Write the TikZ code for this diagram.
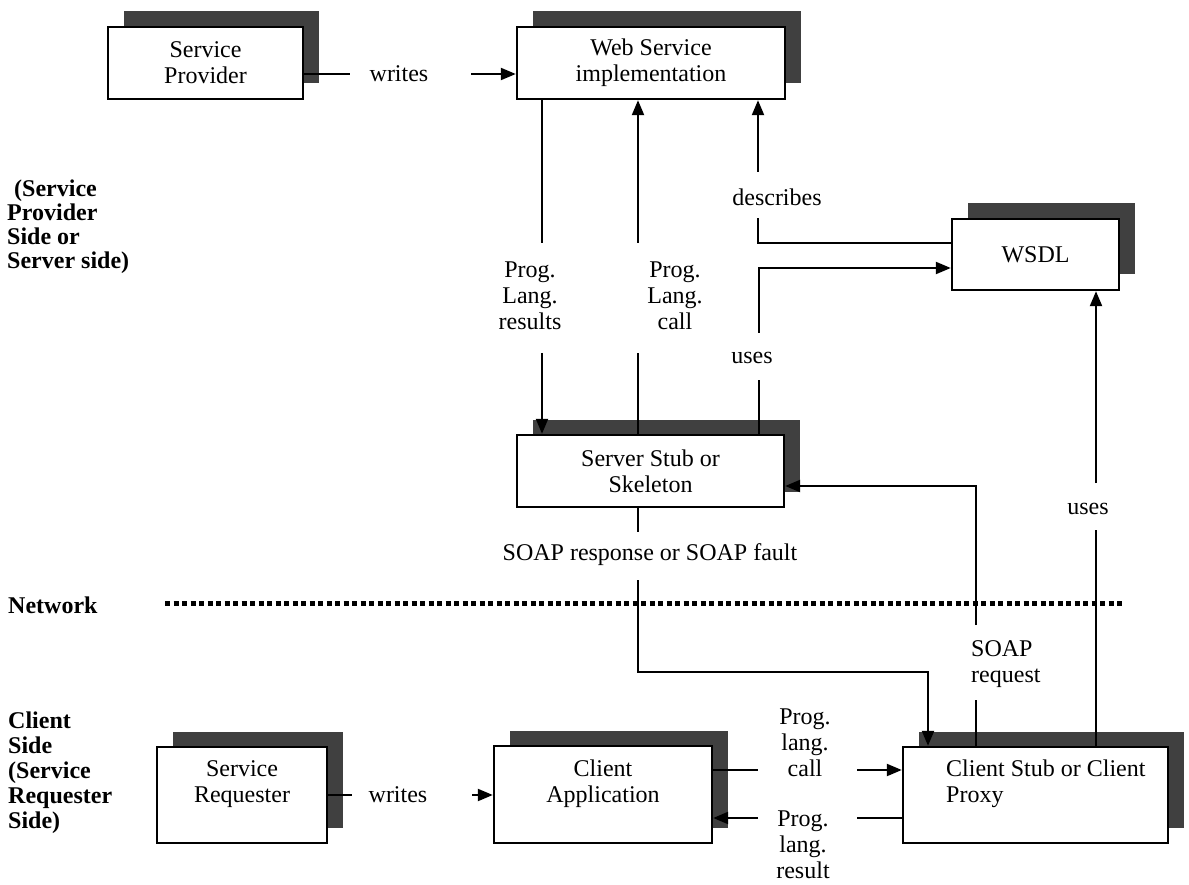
\documentclass[tikz,border=0pt]{standalone}
\usepackage{fontspec}
\setmainfont{Liberation Serif}
\usetikzlibrary{arrows.meta,shadows}
\begin{document}
\begin{tikzpicture}[x=1pt,y=-1pt,
  box/.style={draw, line width=2.4pt, fill=white, inner sep=0pt, align=center,
    font=\fontsize{24}{26}\selectfont,
    general shadow={fill=black!75, shadow xshift=16pt, shadow yshift=15.5pt}},
  lbl/.style={inner sep=0pt, align=center, font=\fontsize{24}{26}\selectfont},
  side/.style={inner sep=0pt, align=left, anchor=west, font=\fontsize{24}{24}\selectfont\bfseries},
  conn/.style={line width=2.2pt},
  arr/.style={line width=2.2pt, -{Triangle[length=15pt,width=12pt]}},
  net/.style={line width=5pt, dash pattern=on 5pt off 3.5pt}]

\fill[white] (0,0) rectangle (1189,885);
\useasboundingbox (0,0) rectangle (1189,885);

% side captions
\node[side] (srvside) at (7,227) {\hspace*{7pt}(Service\\Provider\\Side or\\Server side)};
\node[side] (netl) at (8,605) {Network};
\node[side, font=\fontsize{24}{25}\selectfont\bfseries] (cliside) at (8,773) {Client\\Side\\(Service\\Requester\\Side)};

% network boundary
\coordinate (n1) at (165,603);
\coordinate (n2) at (1122,603);
\draw[net] (n1) -- (n2);

% boxes
\node[box, minimum width=195pt, minimum height=72pt] (sp) at (205.5,63) {Service\\Provider};
\node[box, minimum width=268pt, minimum height=72pt] (wsi) at (651,63) {Web Service\\implementation};
\node[box, minimum width=167pt, minimum height=71pt] (wsdl) at (1035.5,254.5) {WSDL};
\node[box, minimum width=267pt, minimum height=72pt] (sss) at (650.5,471) {Server Stub or\\Skeleton};
\node[box, minimum width=170pt, minimum height=96pt] (sr) at (242,795) {};
\node[lbl] (srt) at (242,784.5) {Service\\Requester};
\node[box, minimum width=218pt, minimum height=97pt] (ca) at (603,794.5) {};
\node[lbl] (cat) at (603,784) {Client\\Application};
\node[box, minimum width=265pt, minimum height=96pt] (csp) at (1035.5,795) {};
\node[lbl, align=left, anchor=west] (cspt) at (946,784) {Client Stub or Client\\Proxy};

% writes (provider side)
\node[lbl] (w1) at (399,74) {writes};
\coordinate (w1a) at (350,74);
\coordinate (w1b) at (471,74);
\draw[conn] (sp.east |- w1a) -- (w1a);
\draw[arr] (w1b) -- (wsi.west |- w1b);

% programming language results
\node[lbl] (plr) at (530,296) {Prog.\\Lang.\\results};
\coordinate (c1a) at (542,243);
\coordinate (c1b) at (542,353);
\draw[conn] (wsi.south -| c1a) -- (c1a);
\draw[arr] (c1b) -- (sss.north -| c1b);

% programming language call
\node[lbl] (plc) at (675,296) {Prog.\\Lang.\\call};
\coordinate (c2a) at (638,353);
\coordinate (c2b) at (638,243);
\draw[conn] (sss.north -| c2a) -- (c2a);
\draw[arr] (c2b) -- (wsi.south -| c2b);

% describes
\node[lbl] (desc) at (777,197) {describes};
\coordinate (d0) at (758,243);
\coordinate (d1) at (758,218);
\coordinate (d2) at (758,172);
\draw[conn] (wsdl.west |- d0) -- (d0) -- (d1);
\draw[arr] (d2) -- (wsi.south -| d2);

% uses (server stub)
\node[lbl] (uses1) at (752,358) {uses};
\coordinate (u1) at (759,380);
\coordinate (u2) at (759,333);
\coordinate (u3) at (759,268);
\draw[conn] (sss.north -| u1) -- (u1);
\draw[arr] (u2) -- (u3) -- (wsdl.west |- u3);

% uses (client stub)
\node[lbl] (uses2) at (1088,509) {uses};
\coordinate (v1) at (1096,530);
\coordinate (v2) at (1096,483);
\draw[conn] (csp.north -| v1) -- (v1);
\draw[arr] (v2) -- (wsdl.south -| v2);

% SOAP request
\node[lbl, align=left, anchor=west] (soapreq) at (971,664) {SOAP\\request};
\coordinate (s1) at (976,700);
\coordinate (s2) at (976,625);
\coordinate (s3) at (976,486);
\draw[conn] (csp.north -| s1) -- (s1);
\draw[arr] (s2) -- (s3) -- (sss.east |- s3);

% SOAP response
\node[lbl] (soapresp) at (650,555) {SOAP response or SOAP fault};
\coordinate (r1) at (638,532);
\coordinate (r2) at (638,580);
\coordinate (r3) at (638,672);
\coordinate (r4) at (928,672);
\draw[conn] (sss.south -| r1) -- (r1);
\draw[arr] (r2) -- (r3) -- (r4) -- (csp.north -| r4);

% client side programming language call / result
\node[lbl] (plc2) at (805,743) {Prog.\\lang.\\call};
\coordinate (k1) at (758,770);
\coordinate (k2) at (857,770);
\draw[conn] (ca.east |- k1) -- (k1);
\draw[arr] (k2) -- (csp.west |- k2);

\node[lbl] (plr2) at (803,845) {Prog.\\lang.\\result};
\coordinate (q1) at (857,818);
\coordinate (q2) at (758,818);
\draw[conn] (csp.west |- q1) -- (q1);
\draw[arr] (q2) -- (ca.east |- q2);

% writes (requester side)
\node[lbl] (w2) at (398,795) {writes};
\coordinate (w2a) at (352,795);
\coordinate (w2b) at (472,795);
\draw[conn] (sr.east |- w2a) -- (w2a);
\draw[arr] (w2b) -- (ca.west |- w2b);

\end{tikzpicture}
\end{document}
